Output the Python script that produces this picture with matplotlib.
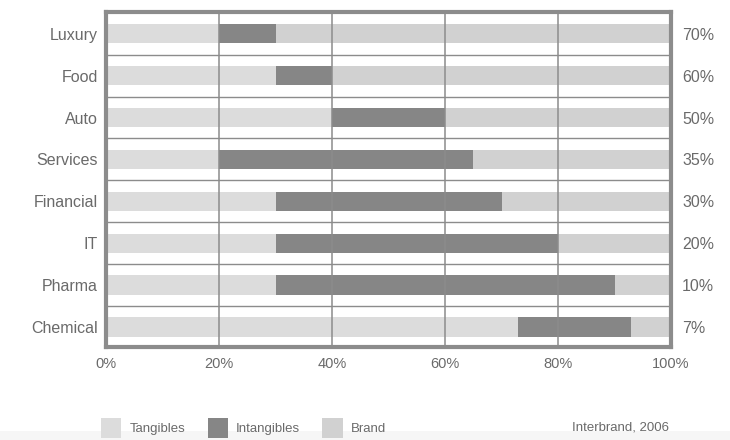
import matplotlib
matplotlib.use("Agg")
import matplotlib.pyplot as plt
from matplotlib.patches import Patch, Rectangle

# ==========================================================
# DATA
# ==========================================================
categories = ["Luxury", "Food", "Auto", "Services", "Financial", "IT", "Pharma", "Chemical"]
tangibles = [20, 30, 40, 20, 30, 30, 30, 73]
intangibles = [10, 10, 20, 45, 40, 50, 60, 20]
brand = [70, 60, 40, 35, 30, 20, 10, 7]
brand_labels = ["70%", "60%", "50%", "35%", "30%", "20%", "10%", "7%"]
xticks = [0, 20, 40, 60, 80, 100]
series_names = ["Tangibles", "Intangibles", "Brand"]
source = "Interbrand, 2006"

# ==========================================================
# STYLE
# ==========================================================
plt.rcParams['font.family'] = ['Liberation Sans', 'DejaVu Sans']
C_TANG = "#dcdcdc"
C_INT = "#868686"
C_BRAND = "#d1d1d1"
C_LINE = "#8c8c8c"
C_TEXT = "#6a6a6a"

fig = plt.figure(figsize=(7.3, 4.4), dpi=100)

# faint band along the bottom edge
fig.patches.append(Rectangle((0, 0), 1, 1 - 431 / 440, transform=fig.transFigure,
                             facecolor="#f6f6f6", edgecolor='none', zorder=0))

ax = fig.add_axes([106 / 730, 1 - 347 / 440, (671 - 106) / 730, (347 - 12) / 440])

y = list(range(len(categories)))
h = 0.46

left2 = [t + i for t, i in zip(tangibles, intangibles)]
ax.barh(y, tangibles, height=h, color=C_TANG, zorder=1)
ax.barh(y, intangibles, left=tangibles, height=h, color=C_INT, zorder=1)
ax.barh(y, brand, left=left2, height=h, color=C_BRAND, zorder=1)

ax.set_xlim(0, 100)
ax.set_ylim(len(categories) - 0.52, -0.52)

# grid: vertical lines and row separators
for xv in xticks[1:-1]:
    ax.axvline(xv, color=C_LINE, lw=1.1, zorder=2)
for i in range(len(categories) - 1):
    ax.axhline(i + 0.5, color=C_LINE, lw=1.0, zorder=2)

for s in ax.spines.values():
    s.set_color(C_LINE)
    s.set_linewidth(3.0)
    s.set_zorder(3)

ax.set_xticks(xticks)
ax.set_xticklabels([f"{v}%" for v in xticks])
ax.set_yticks(y)
ax.set_yticklabels(categories)
ax.tick_params(axis='x', length=0, pad=7, labelsize=10.5, labelcolor=C_TEXT)
ax.tick_params(axis='y', length=0, pad=6, labelsize=11.5, labelcolor=C_TEXT)

ax2 = ax.twinx()
ax2.set_ylim(ax.get_ylim())
ax2.set_yticks(y)
ax2.set_yticklabels(brand_labels)
ax2.tick_params(axis='y', length=0, pad=8, labelsize=11.5, labelcolor=C_TEXT)
for s in ax2.spines.values():
    s.set_visible(False)

# ==========================================================
# LEGEND + SOURCE
# ==========================================================
handles = [Patch(facecolor=c, edgecolor='none') for c in (C_TANG, C_INT, C_BRAND)]
leg = fig.legend(handles, series_names, loc='center left',
                 bbox_to_anchor=(101 / 730, 1 - 428 / 440), ncol=3,
                 frameon=False, fontsize=9.5, handlelength=1.55, handleheight=1.9,
                 handletextpad=0.6, columnspacing=1.7, borderpad=0, borderaxespad=0)
for t in leg.get_texts():
    t.set_color(C_TEXT)

fig.text(669 / 730, 1 - 427 / 440, source, ha='right', va='center',
         fontsize=9.5, color=C_TEXT)

fig.savefig("out.png", dpi=100)
